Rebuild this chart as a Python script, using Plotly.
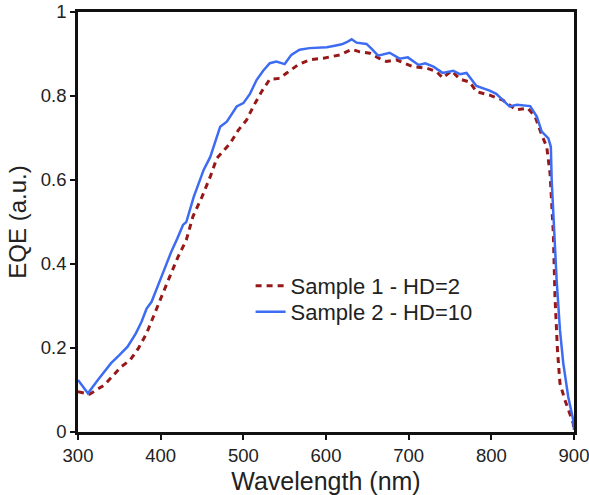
import plotly.graph_objects as go

# Sample 1 - HD=2 (dashed dark red)
wl_s1 = [300, 314, 332, 352, 363, 373, 383, 391, 401, 411, 421, 431, 439, 450, 460, 468,
         484, 494, 504, 512, 522, 532, 544, 552, 566, 580, 597, 617, 631, 641, 653, 665,
         673, 685, 697, 705, 722, 734, 741, 752, 762, 774, 782, 798, 814, 830, 844, 853,
         861, 867, 871, 875, 877, 880, 883, 889, 899, 900]
eqe_s1 = [0.096, 0.090, 0.112, 0.155, 0.171, 0.199, 0.235, 0.275, 0.322, 0.370, 0.417, 0.457,
          0.513, 0.560, 0.608, 0.652, 0.687, 0.719, 0.743, 0.775, 0.810, 0.840, 0.842, 0.854,
          0.874, 0.886, 0.890, 0.898, 0.911, 0.905, 0.902, 0.889, 0.882, 0.886, 0.876, 0.870,
          0.866, 0.858, 0.843, 0.860, 0.840, 0.833, 0.810, 0.802, 0.790, 0.767, 0.771, 0.751,
          0.707, 0.679, 0.616, 0.473, 0.322, 0.195, 0.116, 0.076, 0.021, 0.005]

# Sample 2 - HD=10 (solid blue)
wl_s2 = [300, 312, 324, 340, 350, 360, 370, 377, 383, 389, 401, 413, 420, 427, 431, 440,
         452, 460, 472, 480, 492, 500, 508, 516, 524, 532, 540, 550, 558, 568, 580, 601,
         609, 619, 625, 631, 637, 649, 655, 663, 677, 689, 699, 712, 720, 730, 741, 754,
         762, 770, 782, 798, 806, 822, 831, 847, 855, 861, 869, 872, 873, 875, 877, 879,
         883, 887, 893, 899, 900]
eqe_s2 = [0.124, 0.092, 0.124, 0.164, 0.183, 0.203, 0.235, 0.263, 0.294, 0.310, 0.370, 0.430,
          0.460, 0.493, 0.500, 0.560, 0.624, 0.655, 0.727, 0.739, 0.775, 0.783, 0.805, 0.838,
          0.860, 0.878, 0.882, 0.876, 0.898, 0.910, 0.914, 0.916, 0.919, 0.923, 0.928, 0.935,
          0.927, 0.924, 0.913, 0.896, 0.903, 0.889, 0.892, 0.874, 0.878, 0.870, 0.855, 0.860,
          0.852, 0.855, 0.824, 0.813, 0.805, 0.775, 0.779, 0.776, 0.751, 0.715, 0.699, 0.679,
          0.600, 0.520, 0.470, 0.362, 0.243, 0.164, 0.084, 0.029, 0.005]

x_ticks = [300, 400, 500, 600, 700, 800, 900]
y_ticks = [0, 0.2, 0.4, 0.6, 0.8, 1]

FONT = "Liberation Sans, Arial, sans-serif"
TXT = "#222222"

fig = go.Figure()
fig.add_trace(go.Scatter(x=wl_s1, y=eqe_s1, mode="lines", name="Sample 1 - HD=2",
                         legend="legend",
                         line=dict(color="#961818", width=3, dash="6px,5px")))
fig.add_trace(go.Scatter(x=wl_s2, y=eqe_s2, mode="lines", name="Sample 2 - HD=10",
                         legend="legend2",
                         line=dict(color="#3d6cf2", width=2.5)))

leg_common = dict(xanchor="left", yanchor="top", bgcolor="rgba(0,0,0,0)",
                  font=dict(size=22, color=TXT, family=FONT))

fig.update_layout(
    width=589, height=495,
    margin=dict(l=78, r=15, t=12, b=63, autoexpand=False),
    paper_bgcolor="white", plot_bgcolor="white",
    font=dict(family=FONT, color=TXT),
    showlegend=True,
    legend=dict(x=0.348, y=0.398, **leg_common),
    legend2=dict(x=0.348, y=0.336, **leg_common),
)
fig.update_xaxes(range=[300, 900], tickvals=x_ticks, showgrid=False, zeroline=False,
                 automargin=False, ticklabeloverflow="allow",
                 showline=True, linewidth=2.5, linecolor="#111111", mirror=True,
                 ticks="outside", ticklen=5, tickwidth=2, tickcolor="#111111",
                 tickfont=dict(size=18.5, color=TXT),
                 title=dict(text="Wavelength (nm)", font=dict(size=25, color=TXT), standoff=8))
fig.update_yaxes(range=[0, 1], tickvals=y_ticks, showgrid=False, zeroline=False,
                 automargin=False, ticklabeloverflow="allow",
                 showline=True, linewidth=2.5, linecolor="#111111", mirror=True,
                 ticks="outside", ticklen=5, tickwidth=2, tickcolor="#111111",
                 tickfont=dict(size=18.5, color=TXT),
                 title=dict(text="EQE (a.u.)", font=dict(size=24, color=TXT), standoff=8))

fig.write_html("out.html", config={"displayModeBar": False},
               post_script="document.body.style.margin='0';document.body.style.padding='0';")
